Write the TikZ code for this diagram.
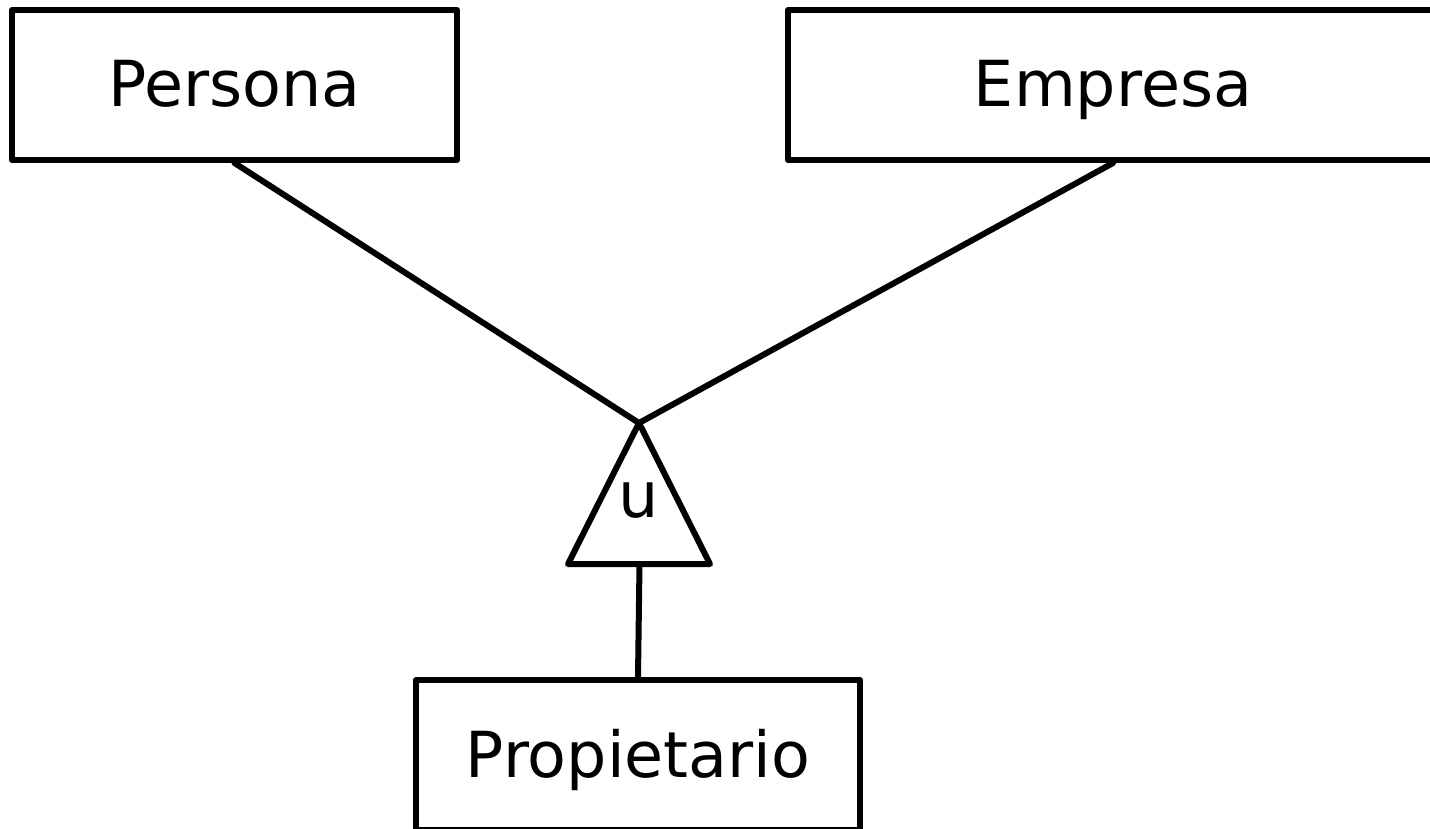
\documentclass[tikz,border=0pt]{standalone}
\usepackage{fontspec}
\setmainfont{DejaVu Sans}
\begin{document}
\begin{tikzpicture}[x=1pt,y=-1pt,
  txt/.style={font=\fontsize{63.5}{70}\selectfont},
  entity/.style={draw, line width=6pt, line join=round, rectangle, inner sep=0pt, txt, text height=44pt, text depth=0pt},
  conn/.style={line width=6pt, line cap=round}]
\useasboundingbox (0,0) rectangle (1430,829);
\clip (0,0) rectangle (1430,829);
\node[entity, minimum width=445pt, minimum height=150pt] (persona) at (234.5,85) {Persona};
\node[entity, minimum width=650pt, minimum height=150pt] (empresa) at (1113,85) {Empresa};
\node[entity, minimum width=444pt, minimum height=150pt] (prop) at (638,755) {Propietario};
\coordinate (apex) at (639,423);
\coordinate (bl) at (568,564);
\coordinate (br) at (710,564);
\coordinate (bm) at (639.5,564);
\draw[line width=6pt, line join=round] (apex) -- (bl) -- (br) -- cycle;
\node[txt, inner sep=0pt, anchor=base] (u) at (639,517) {u};
\draw[conn] (persona.south) -- (apex);
\draw[conn] (empresa.south) -- (apex);
\draw[conn] (bm) -- (prop.north);
\end{tikzpicture}
\end{document}
